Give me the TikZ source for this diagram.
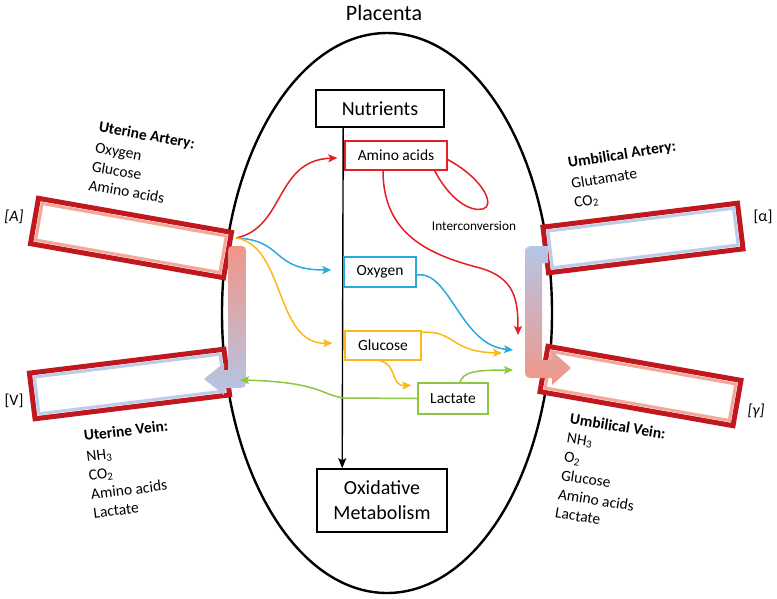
\documentclass[tikz,border=0pt]{standalone}
\usepackage{fontspec}
\setmainfont{Carlito}
\usetikzlibrary{shapes.geometric,arrows.meta,positioning,calc}

\definecolor{vred}{RGB}{192,24,30}
\definecolor{cred}{RGB}{227,30,36}
\definecolor{cblue}{RGB}{41,171,226}
\definecolor{cyel}{RGB}{251,185,23}
\definecolor{cgrn}{RGB}{141,198,63}
\definecolor{tubepink}{RGB}{241,150,135}
\definecolor{tubeblue}{RGB}{180,198,231}
\definecolor{linepink}{RGB}{245,168,152}
\definecolor{lineblue}{RGB}{188,204,235}

\tikzset{
  blackbox/.style={draw, line width=1.6pt, inner sep=0pt, align=center, font=\fontsize{20}{25}\selectfont},
  cbox/.style={draw=#1, line width=1.4pt, inner sep=0pt, font=\fontsize{15.5}{18}\selectfont},
  flow/.style={draw=#1, line width=1.5pt, -{Stealth[length=9pt,width=8pt,inset=2pt]}},
  vessel/.style={draw=vred, fill=white, line width=5pt, inner sep=0pt, minimum width=196pt, minimum height=46pt},
  lining/.style={draw=#1, line width=3pt, inner sep=0pt, minimum width=187pt, minimum height=37pt},
  vlabel/.style={anchor=north west, align=left, inner sep=0pt, font=\fontsize{15.5}{19}\selectfont},
  tag/.style={font=\fontsize{16}{19}\selectfont}
}

\begin{document}
\begin{tikzpicture}[x=1pt,y=-1pt]
\useasboundingbox (0,0) rectangle (777,598);

\node[draw, ellipse, line width=2.4pt, minimum width=330pt, minimum height=560pt] (placenta) at (387,313) {};
\node[font=\fontsize{22}{26}\selectfont] (plc) at (384,13) {Placenta};

% vessels
\node[vessel, rotate=-10] (uta) at (131,238) {};
\node[lining=linepink, rotate=-10] (utaL) at (uta.center) {};
\node[vessel, rotate=7] (utv) at (129.5,384) {};
\node[lining=lineblue, rotate=7] (utvL) at (utv.center) {};
\node[vessel, rotate=7] (uma) at (643,238) {};
\node[lining=lineblue, rotate=7] (umaL) at (uma.center) {};
\node[vessel, rotate=-10] (umv) at (640.5,386) {};
\node[lining=linepink, rotate=-10] (umvL) at (umv.center) {};

\shade[top color=tubepink, bottom color=tubeblue]
  (228,256) .. controls (228,246) .. (237,246) .. controls (246,246) .. (246,256)
  -- (246,376) .. controls (246,388) .. (234,388)
  -- (224,388) -- (224,395) -- (204,379) -- (224,363) -- (224,370) -- (228,370) -- cycle;
\shade[top color=tubeblue, bottom color=tubepink]
  (548,246) -- (538,246) .. controls (525,246) .. (525,259)
  -- (525,366) .. controls (525,378) .. (537,378)
  -- (552,378) -- (552,385) -- (571,368) -- (552,351) -- (552,360)
  -- (542,360) -- (542,266) .. controls (542,263) .. (545,263) -- (548,263) -- cycle;

\node[tag] (tagA) at (14,217) {\textit{[A]}};
\node[tag] (tagV) at (14,401) {[V]};
\node[tag] (tagAl) at (763,217) {[α]};
\node[tag] (tagG) at (756,411) {\textit{[γ]}};

\node[vlabel, rotate=-10] (utaT) at (100,121) {\textbf{Uterine Artery:}\\[2pt]Oxygen\\Glucose\\Amino acids};
\node[vlabel, rotate=7] (utvT) at (83,430) {\textbf{Uterine Vein:}\\[2pt]NH\textsubscript{3}\\CO\textsubscript{2}\\Amino acids\\Lactate};
\node[vlabel, rotate=9] (umaT) at (567,157) {\textbf{Umbilical Artery:}\\[2pt]Glutamate\\CO\textsubscript{2}};
\node[vlabel, rotate=-9] (umvT) at (571,413) {\textbf{Umbilical Vein:}\\NH\textsubscript{3}\\O\textsubscript{2}\\Glucose\\Amino acids\\Lactate};

% placenta contents
\node[blackbox, minimum width=128pt, minimum height=37pt] (nut) at (380,108.5) {Nutrients};
\node[blackbox, minimum width=130pt, minimum height=63pt] (oxi) at (382,500.5) {Oxidative\\Metabolism};
\draw[line width=1.4pt, -{Stealth[length=10pt,width=8pt,inset=2pt]}] ($(nut.south west)+(28,0)$) -- ($(oxi.north west)+(26,0)$);

\node[cbox=cred, minimum width=102pt, minimum height=29pt] (ami) at (396,155.5) {Amino acids};
\node[cbox=cblue, minimum width=72pt, minimum height=30pt] (oxy) at (380,272) {Oxygen};
\node[cbox=cyel, minimum width=76pt, minimum height=29pt] (glu) at (383,345.5) {Glucose};
\node[cbox=cgrn, minimum width=70pt, minimum height=31pt] (lac) at (453,398.5) {Lactate};
\node[font=\fontsize{13.3}{16}\selectfont] (intc) at (474,226) {Interconversion};

\coordinate (src) at (236,238);
\coordinate (inR) at (518,335);
\coordinate (inB) at (513,350);
\coordinate (inY) at (502,353);
\coordinate (inG) at (513,370);
\coordinate (outG) at (240,380);

\draw[flow=cred] (src) .. controls (285,228) and (275,160) .. ($(ami.west)+(-7,2.5)$);
\draw[flow=cblue] (src) .. controls (285,240) and (270,270) .. ($(oxy.west)+(-12,-2)$);
\draw[flow=cyel] (src) .. controls (285,245) and (275,345) .. ($(glu.west)+(-12,-2.5)$);

\draw[flow=cred] ($(ami.south)+(-13,0)$) .. controls (383,235) and (430,255) .. (480,268) .. controls (515,278) and (518,300) .. (inR);
\draw[cred, line width=1.5pt] ($(ami.south east)+(-13,0)$) .. controls (450,200) and (470,212) .. (483,209) .. controls (495,206) and (485,180) .. ($(ami.east)+(0,4)$);
\draw[flow=cblue] ($(oxy.east)+(0,3)$) .. controls (450,270) and (460,345) .. (inB);
\draw[flow=cyel] ($(glu.north east)+(0,2)$) .. controls (455,330) and (450,352) .. (inY);
\draw[flow=cyel] ($(glu.south)+(-3,0)$) .. controls (398,365) and (390,386) .. ($(lac.north west)+(-6,3)$);
\draw[flow=cgrn] ($(lac.north)+(7,0)$) .. controls (463,372) and (475,370) .. (inG);
\draw[flow=cgrn] (lac.west) -- (345,398) .. controls (322,396) and (322,382) .. (outG);
\end{tikzpicture}
\end{document}
